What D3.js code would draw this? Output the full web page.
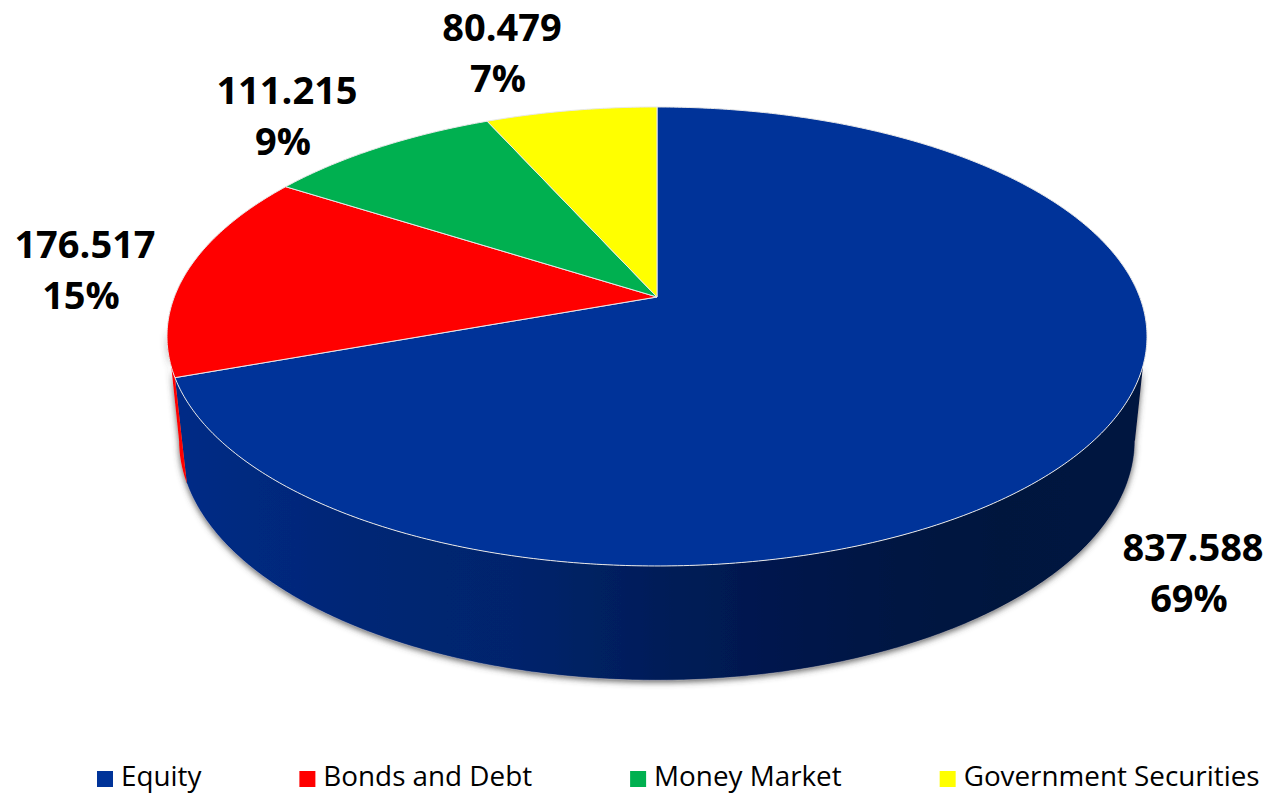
<!DOCTYPE html>
<html><head><meta charset="utf-8">
<script src="https://cdn.jsdelivr.net/npm/d3@7/dist/d3.min.js"></script>
<style>html,body{margin:0;padding:0;background:#fff;overflow:hidden}svg{display:block}</style>
</head><body><svg id="c" width="1268" height="793"></svg>
<script>
const categories = ["Equity","Bonds and Debt","Money Market","Government Securities"];
const values = [837.588,176.517,111.215,80.479];
const colors = ["#003399","#ff0000","#00b050","#ffff00"];

// layout only
const W=1268,H=793;
const labelAnchor=[[1193,561],[85,258],[287,104],[502,41]];
const k=0.172;
const topFace={cx:657,cy:297,a:222.7,b:482.7};
const botFace={cx:657,cy:399,a:232.9,b:470.8};
const rad=d=>d*Math.PI/180;
const project=(f,t)=>{const X=Math.sin(t),Y=Math.cos(t),d=1+k*Y;return [f.cx+f.b*X/d,f.cy-f.a*Y/d];};
const angles=(a0,a1)=>{const n=Math.max(2,Math.ceil((a1-a0)/0.01));return d3.range(n+1).map(i=>a0+(a1-a0)*i/n);};

const svg=d3.select("#c");
const defs=svg.append("defs");
const grad=defs.append("linearGradient").attr("id","wall").attr("gradientUnits","userSpaceOnUse")
  .attr("x1",180).attr("x2",1145).attr("y1",0).attr("y2",0);
[[0,"#002b86"],[0.2,"#002674"],[0.35,"#00246c"],[0.5,"#001d58"],[0.7,"#001345"],[0.85,"#00123e"],[1,"#001240"]]
  .forEach(s=>grad.append("stop").attr("offset",s[0]).attr("stop-color",s[1]));
const fl=defs.append("filter").attr("id","sh").attr("x","-5%").attr("y","-5%").attr("width","110%").attr("height","115%");
fl.append("feDropShadow").attr("dx",0).attr("dy",2).attr("stdDeviation",3).attr("flood-color","#444").attr("flood-opacity",0.85);

const pie=d3.pie().sort(null).startAngle(0).endAngle(2*Math.PI);
const arcs=pie(values);
const total=d3.sum(values);
const line=d3.line();

// side wall: the upper edge reaches a little further round than the lower one
const frontTop=[rad(107),rad(262)], frontBot=[rad(100),rad(260)];
const wallFill=i=>i===0?"url(#wall)":colors[i];
const gWall=svg.append("g").attr("filter","url(#sh)");
gWall.selectAll("path").data(arcs.filter(d=>d.startAngle<frontTop[1]&&d.endAngle>frontTop[0])).join("path")
  .attr("fill",d=>wallFill(d.index))
  .attr("d",d=>{
    const A=angles(Math.max(d.startAngle,frontTop[0]),Math.min(d.endAngle,frontTop[1]));
    const B=angles(Math.max(d.startAngle,frontBot[0]),Math.min(d.endAngle,frontBot[1]));
    return line([...A.map(t=>project(topFace,t)),...B.reverse().map(t=>project(botFace,t))])+"Z";
  });
svg.append("path").attr("fill","none").attr("stroke","#e6e6e6").attr("stroke-width",0.8).attr("stroke-opacity",0.5)
  .attr("d",line(angles(frontBot[0],arcs[0].endAngle).map(t=>project(botFace,t))));

// top face
svg.append("g").selectAll("path").data(arcs).join("path")
  .attr("fill",d=>colors[d.index])
  .attr("stroke","#e8e8e8").attr("stroke-width",1).attr("stroke-linejoin","round")
  .attr("d",d=>line([[topFace.cx,topFace.cy],...angles(d.startAngle,d.endAngle).map(t=>project(topFace,t))])+"Z");

// labels
const fmtV=d3.format(".3f"),fmtP=d3.format(".0%");
const lab=svg.append("g").attr("font-family","'Open Sans',sans-serif").attr("font-weight",700).attr("font-size",38).attr("fill","#000").attr("text-anchor","middle");
arcs.forEach(d=>{
  const [x,y]=labelAnchor[d.index];
  lab.append("text").attr("x",x).attr("y",y).text(fmtV(d.value));
  lab.append("text").attr("x",x-4).attr("y",y+51).text(fmtP(d.value/total));
});

// legend
const leg=svg.append("g").attr("font-family","'Open Sans',sans-serif").attr("font-size",27).attr("fill","#000");
let lx=97;
categories.forEach((c,i)=>{
  leg.append("rect").attr("x",lx).attr("y",771).attr("width",16).attr("height",16).attr("fill",colors[i]);
  const t=leg.append("text").attr("x",lx+24).attr("y",786).text(c);
  const w=t.node().getComputedTextLength()*1.03;
  t.attr("textLength",w).attr("lengthAdjust","spacingAndGlyphs");
  lx+=24+w+98;
});
</script></body></html>
